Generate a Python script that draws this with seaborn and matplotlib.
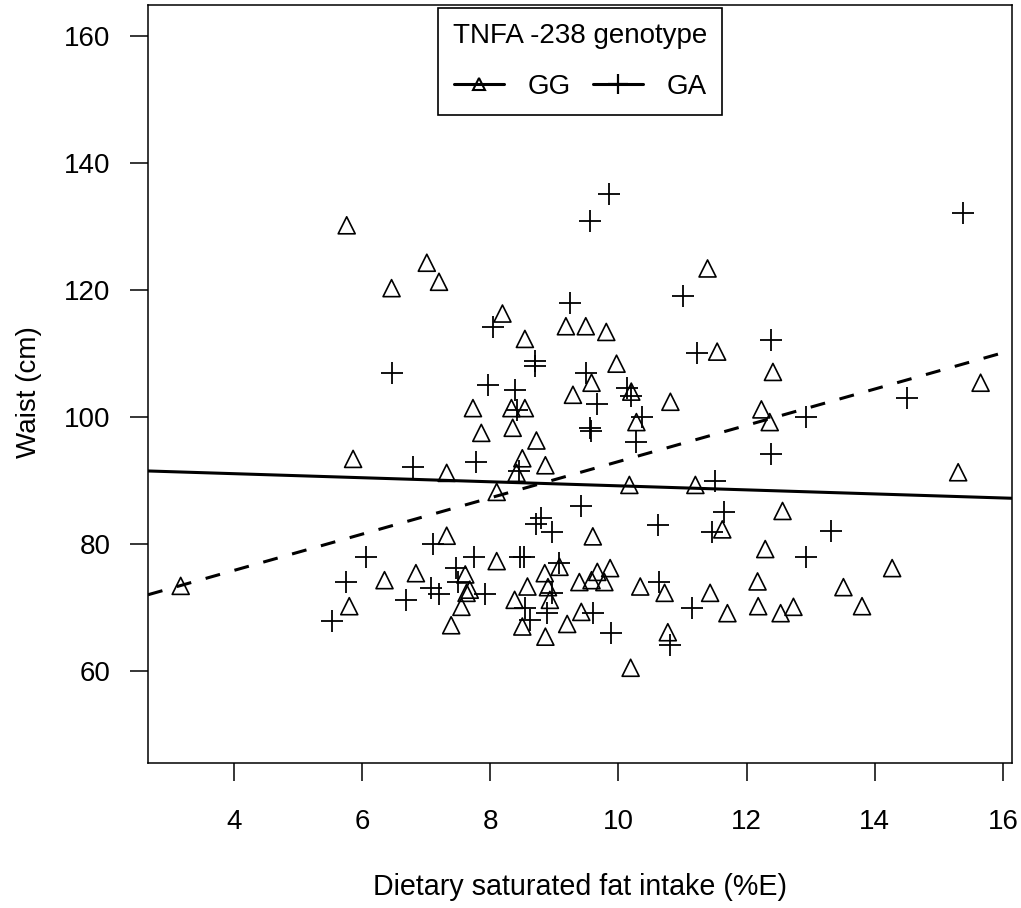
import matplotlib
matplotlib.use("Agg")
import matplotlib.pyplot as plt
from matplotlib.lines import Line2D
import pandas as pd
import seaborn as sns

# ---- data ----
gg_x = [3.17, 5.76, 5.86, 5.80, 6.35, 6.46, 6.84, 7.01, 7.20, 7.32, 7.32, 7.39, 7.55, 7.61,
        7.63, 7.68, 7.73, 7.86, 8.10, 8.10, 8.19, 8.33, 8.35, 8.41, 8.54, 8.54, 8.50, 8.50,
        8.58, 8.38, 8.72, 8.85, 8.86, 8.86, 8.90, 8.93, 9.08, 9.18, 9.20, 9.29, 9.49, 9.42,
        9.39, 9.58, 9.58, 9.60, 9.67, 9.78, 9.81, 9.87, 9.97, 10.17, 10.19, 10.20, 10.28,
        10.34, 10.72, 10.81, 10.77, 11.20, 11.39, 11.43, 11.54, 11.62, 11.70, 12.17, 12.18,
        12.23, 12.29, 12.36, 12.41, 12.53, 12.56, 12.73, 13.51, 13.80, 14.27, 15.30, 15.65]
gg_y = [73.4, 130.2, 93.4, 70.2, 74.3, 120.3, 75.4, 124.3, 121.3, 91.2, 81.3, 67.2, 70.1, 75.2,
        72.3, 72.8, 101.4, 97.5, 88.2, 77.3, 116.3, 101.4, 98.3, 91.2, 101.4, 112.3, 93.5, 67.0,
        73.3, 71.2, 96.3, 75.4, 65.4, 92.4, 73.2, 71.2, 76.4, 114.3, 67.4, 103.5, 114.3, 69.3,
        74.0, 105.4, 74.3, 81.2, 75.6, 74.0, 113.4, 76.2, 108.4, 89.3, 60.5, 104.0, 99.2,
        73.3, 72.3, 102.4, 66.1, 89.3, 123.4, 72.3, 110.3, 82.3, 69.1, 74.1, 70.2,
        101.2, 79.2, 99.2, 107.1, 69.1, 85.2, 70.1, 73.2, 70.2, 76.2, 91.3, 105.4]

ga_x = [5.53, 5.75, 6.06, 6.46, 6.69, 6.79, 7.10, 7.08, 7.20, 7.46, 7.50, 7.77, 7.74, 7.92,
        7.97, 8.04, 8.39, 8.42, 8.45, 8.47, 8.53, 8.54, 8.62, 8.72, 8.70, 8.70, 8.79, 8.88,
        8.97, 8.97, 9.08, 9.24, 9.42, 9.50, 9.55, 9.56, 9.57, 9.60, 9.67, 9.85, 9.88, 10.14,
        10.20, 10.28, 10.37, 10.61, 10.63, 10.81, 11.00, 11.14, 11.23, 11.46, 11.50, 11.64,
        12.38, 12.38, 12.92, 12.93, 13.31, 14.50, 15.38]
ga_y = [67.9, 74.0, 78.0, 106.9, 71.2, 92.1, 80.0, 73.1, 72.1, 76.2, 74.0, 92.9, 78.0, 72.1,
        105.0, 114.2, 104.3, 101.1, 91.5, 78.0, 78.0, 69.9, 68.0, 83.2, 108.9, 108.0, 84.1, 69.2,
        81.9, 72.2, 77.0, 117.9, 86.0, 107.0, 130.9, 98.2, 97.8, 69.1, 102.1, 135.1, 66.0, 104.6,
        103.3, 96.1, 100.0, 83.0, 74.0, 64.1, 119.0, 69.9, 110.1, 81.9, 89.9, 85.0,
        112.1, 94.2, 78.0, 100.0, 82.0, 103.0, 132.1]

# fitted regression lines: (intercept, slope)
gg_fit = (92.35, -0.319)
ga_fit = (64.40, 2.858)

x_ticks = [4, 6, 8, 10, 12, 14, 16]
y_ticks = [60, 80, 100, 120, 140, 160]
x_limits = (2.66, 16.14)
y_limits = (45.5, 164.9)

genotype_labels = ["GG", "GA"]
legend_title = "TNFA -238 genotype"
x_label = "Dietary saturated fat intake (%E)"
y_label = "Waist (cm)"

# ---- plotting ----
sns.set_theme(style="white")
plt.rcParams["font.family"] = ["Liberation Sans", "DejaVu Sans"]
plt.rcParams["text.color"] = "black"

fig = plt.figure(figsize=(10.21, 9.08), dpi=100)
ax = fig.add_axes([148 / 1021, 145 / 908, 864 / 1021, 758 / 908])

gg_df = pd.DataFrame({"x": gg_x, "y": gg_y})
ga_df = pd.DataFrame({"x": ga_x, "y": ga_y})

sns.scatterplot(data=gg_df, x="x", y="y", ax=ax, marker="^", s=150,
                facecolor="none", edgecolor="black", linewidth=1.2, zorder=3)
sns.scatterplot(data=ga_df, x="x", y="y", ax=ax, marker="+", s=256,
                color="black", linewidth=1.3, zorder=3)

line_df = pd.DataFrame({"x": list(x_limits)})
line_df["gg"] = gg_fit[0] + gg_fit[1] * line_df["x"]
line_df["ga"] = ga_fit[0] + ga_fit[1] * line_df["x"]
sns.lineplot(data=line_df, x="x", y="gg", ax=ax, color="black", linewidth=2.2,
             errorbar=None, zorder=2)
sns.lineplot(data=line_df, x="x", y="ga", ax=ax, color="black", linewidth=2.2,
             linestyle=(0, (4.9, 4.9)), errorbar=None, zorder=2)

ax.set_xlim(*x_limits)
ax.set_ylim(*y_limits)
ax.set_xticks(x_ticks)
ax.set_yticks(y_ticks)
ax.set_xticklabels([str(v) for v in x_ticks])
ax.set_yticklabels([str(v) for v in y_ticks])

for sp in ax.spines.values():
    sp.set_visible(True)
    sp.set_color("black")
    sp.set_linewidth(1.1)

ax.tick_params(axis="both", direction="out", length=13, width=1.1, colors="black",
               labelsize=20)
ax.tick_params(axis="x", pad=20, bottom=True)
ax.tick_params(axis="y", pad=14, left=True)

ax.set_xlabel(x_label, fontsize=20.6, color="black")
ax.set_ylabel(y_label, fontsize=20, color="black")
ax.xaxis.label.set_va("center")
ax.yaxis.label.set_va("center")
ax.xaxis.set_label_coords(0.5, -0.1636)
ax.yaxis.set_label_coords(-0.138, 0.49)

handles = [
    Line2D([], [], color="black", linewidth=2.2, marker="^", markersize=9,
           markerfacecolor="none", markeredgecolor="black", markeredgewidth=1.5),
    Line2D([], [], color="black", linewidth=2.2, marker="+", markersize=14,
           markeredgewidth=1.6),
]
leg = ax.legend(handles, genotype_labels, title=legend_title, loc="upper center",
                bbox_to_anchor=(0.5, 1.0), ncol=2, fontsize=20, title_fontsize=20,
                frameon=True, fancybox=False, framealpha=1, edgecolor="black",
                borderaxespad=0.1, borderpad=0.55, handlelength=1.8, handletextpad=0.85,
                columnspacing=0.8, labelspacing=0.9)
leg.get_frame().set_linewidth(1.2)

fig.savefig("out.png", dpi=100)
